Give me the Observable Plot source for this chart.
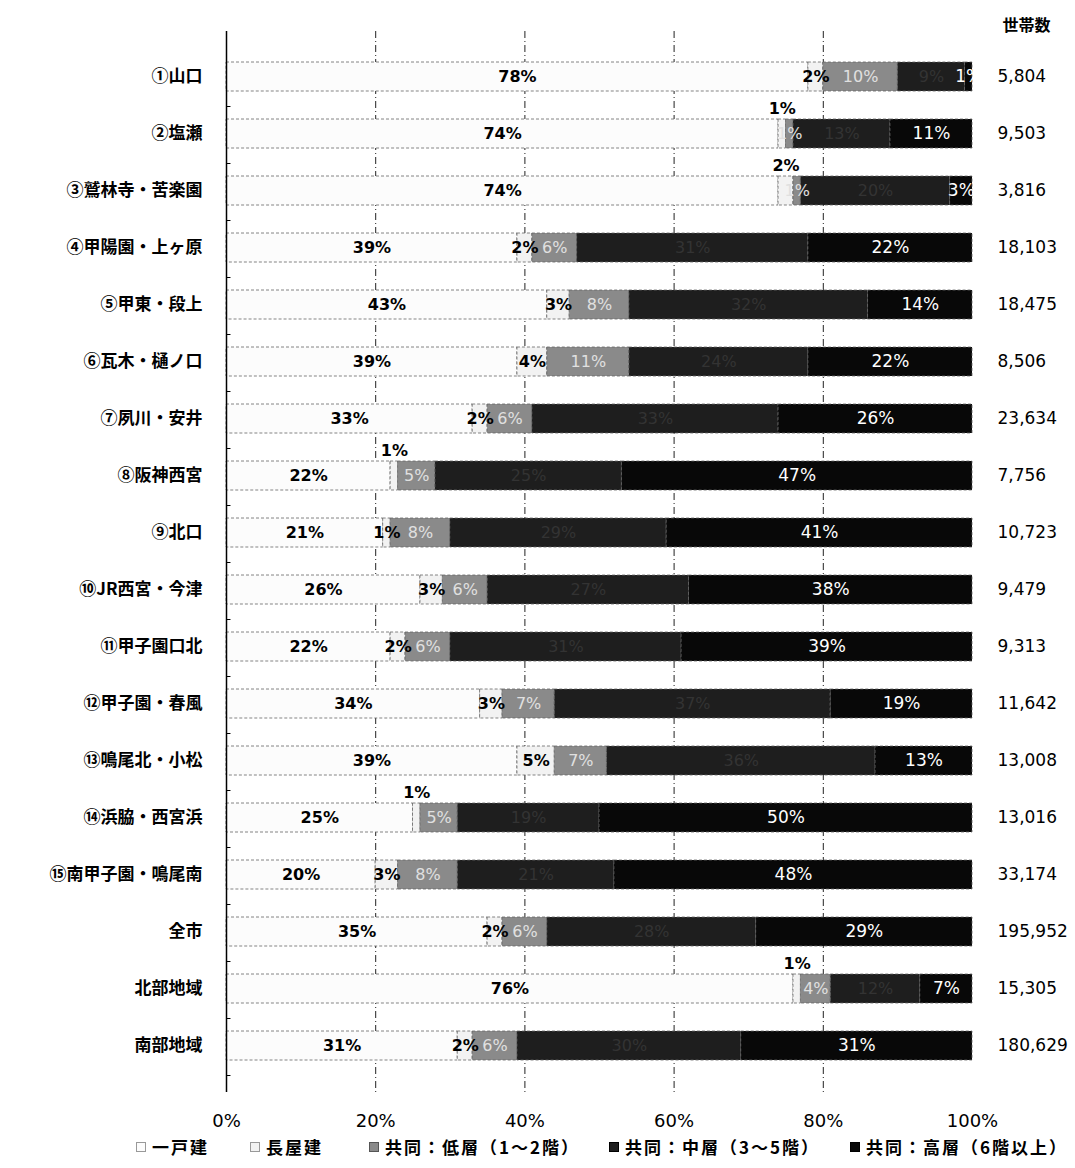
<!DOCTYPE html>
<html><head><meta charset="utf-8">
<script src="https://cdn.jsdelivr.net/npm/d3@7"></script>
<script src="https://cdn.jsdelivr.net/npm/@observablehq/plot@0.6"></script>
<style>
body{margin:0;background:#fff;font-family:"Noto Sans CJK JP",sans-serif;}
#legend{position:absolute;top:1134px;left:0;width:1075px;height:26px;}
.li{position:absolute;top:0;font-weight:bold;font-size:17px;letter-spacing:2px;line-height:26px;white-space:nowrap;color:#000;}
.sw{position:absolute;left:-16px;top:8px;width:10px;height:10px;border:1px solid #888;box-sizing:border-box;}
</style></head>
<body>
<div id="chart"></div>
<div id="legend"></div>
<script>
const areas = ["①山口","②塩瀬","③鷲林寺・苦楽園","④甲陽園・上ヶ原","⑤甲東・段上","⑥瓦木・樋ノ口","⑦夙川・安井","⑧阪神西宮","⑨北口","⑩JR西宮・今津","⑪甲子園口北","⑫甲子園・春風","⑬鳴尾北・小松","⑭浜脇・西宮浜","⑮南甲子園・鳴尾南","全市","北部地域","南部地域"];
const types = ["一戸建","長屋建","共同：低層（1～2階）","共同：中層（3～5階）","共同：高層（6階以上）"];
const ikkodate = [78,74,74,39,43,39,33,22,21,26,22,34,39,25,20,35,76,31];
const nagaya   = [2,1,2,2,3,4,2,1,1,3,2,3,5,1,3,2,1,2];
const teiso    = [10,1,1,6,8,11,6,5,8,6,6,7,7,5,8,6,4,6];
const chuso    = [9,13,20,31,32,24,33,25,29,27,31,37,36,19,21,28,12,30];
const koso     = [1,11,3,22,14,22,26,47,41,38,39,19,13,50,48,29,7,31];
const households = ["5,804","9,503","3,816","18,103","18,475","8,506","23,634","7,756","10,723","9,479","9,313","11,642","13,008","13,016","33,174","195,952","15,305","180,629"];
const nagayaAbove = ["②塩瀬","③鷲林寺・苦楽園","⑧阪神西宮","⑭浜脇・西宮浜","北部地域"];
const xTicks = [0,20,40,60,80,100];
const colors = ["#fcfcfc","#f2f2f2","#8a8a8a","#1e1e1e","#080808"];

const series = [ikkodate, nagaya, teiso, chuso, koso];
const data = [];
areas.forEach((a,i)=>types.forEach((t,j)=>data.push({area:a,type:t,value:series[j][i]})));
const hh = areas.map((a,i)=>({area:a,n:households[i]}));

const base = {x:"value", y:"area", z:"type", order: types};
const lab = (t, cond) => d => (d.type===t && (!cond || cond(d))) ? d.value+"%" : "";
const numFont = '"DejaVu Sans",sans-serif';

const chart = Plot.plot({
  width:1075, height:1135,
  marginLeft:226, marginRight:103, marginTop:31, marginBottom:43,
  x:{domain:[0,100], label:null},
  y:{domain:areas, label:null, padding:0.49},
  color:{domain:types, range:colors},
  style:{fontFamily:'"Noto Sans CJK JP",sans-serif', fontSize:"15px", color:"#000", background:"#fff"},
  marks:[
    Plot.ruleX([20,40,60,80], {stroke:"#222", strokeWidth:1, strokeDasharray:"7,3,1,3"}),
    Plot.barX(data, Plot.stackX({...base, fill:"type", stroke:"#666", strokeWidth:0.8, strokeDasharray:"3,2"})),
    Plot.text(data, Plot.stackX({...base, text:lab(types[0]), fill:"#000", fontWeight:"bold", fontSize:16, fontFamily:numFont})),
    Plot.text(data, Plot.stackX({...base, text:lab(types[1], d=>!nagayaAbove.includes(d.area)), fill:"#000", fontWeight:"bold", fontSize:16, fontFamily:numFont})),
    Plot.text(data, Plot.stackX({...base, text:lab(types[1], d=>nagayaAbove.includes(d.area)), fill:"#000", fontWeight:"bold", fontSize:16, dy:-25, fontFamily:numFont})),
    Plot.text(data, Plot.stackX({...base, text:lab(types[2]), fill:"#e0e0e0", fontSize:16, fontFamily:numFont})),
    Plot.text(data, Plot.stackX({...base, text:lab(types[3]), fill:"#333", fontSize:16, fontFamily:numFont})),
    Plot.text(data, Plot.stackX({...base, text:lab(types[4]), fill:"#fff", fontSize:17, fontFamily:numFont})),
    Plot.text(hh, {x:()=>100, y:"area", text:"n", dx:25, textAnchor:"start", fontSize:17, fontFamily:numFont, fill:"#000"}),
    Plot.text(["世帯数"], {frameAnchor:"top-right", dx:54, dy:-12, textAnchor:"middle", text:d=>d, fontWeight:"bold", fontSize:16, fill:"#000"}),
    Plot.ruleY(areas, {y:d=>d, x1:0, x2:0.6, dy:29.5, stroke:"#000"}),
    Plot.ruleX([0], {stroke:"#000", strokeWidth:1.5}),
    Plot.axisY({tickSize:0, tickPadding:24, fontSize:17, fontWeight:"bold"}),
    Plot.axisX({ticks:xTicks, tickFormat:d=>d+"%", anchor:"bottom", tickSize:0, tickPadding:22, fontSize:18, fontFamily:numFont, label:null})
  ]
});
document.getElementById("chart").appendChild(chart);

const lg = document.getElementById("legend");
const lx = [152, 266, 385, 625, 866];
const lborders = ["#999","#999","#555","#000","#000"];
types.forEach((t,i)=>{
  const d = document.createElement("div");
  d.className="li"; d.style.left = lx[i]+"px";
  d.innerHTML = `<span class="sw" style="background:${colors[i]};border-color:${lborders[i]}"></span>${t}`;
  lg.appendChild(d);
});
</script>
</body></html>
